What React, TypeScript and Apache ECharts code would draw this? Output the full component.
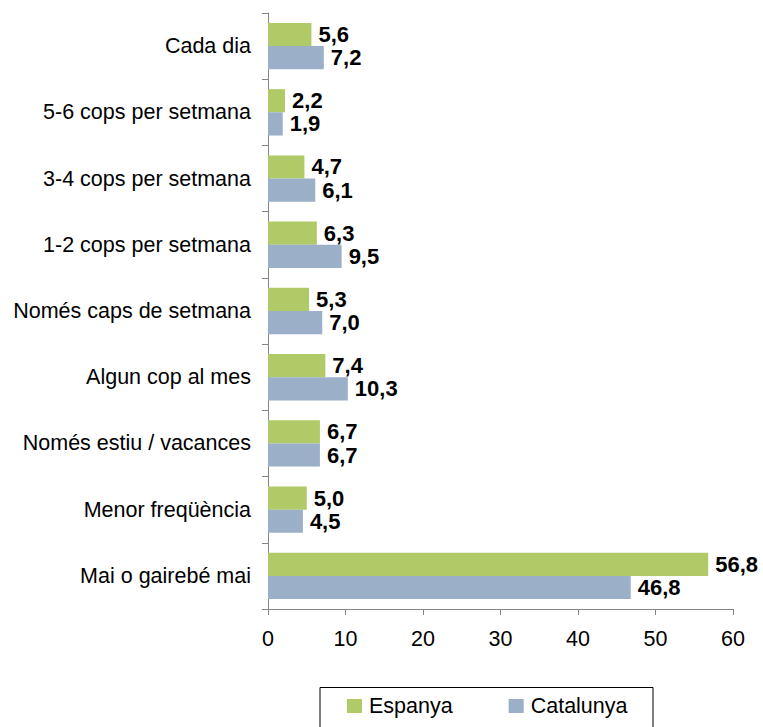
import React, { useEffect, useRef } from "react";
import * as echarts from "echarts";

const categories = [
  "Cada dia",
  "5-6 cops per setmana",
  "3-4 cops per setmana",
  "1-2 cops per setmana",
  "Només caps de setmana",
  "Algun cop al mes",
  "Només estiu / vacances",
  "Menor freqüència",
  "Mai o gairebé mai",
];
const espanya = [5.6, 2.2, 4.7, 6.3, 5.3, 7.4, 6.7, 5.0, 56.8];
const catalunya = [7.2, 1.9, 6.1, 9.5, 7.0, 10.3, 6.7, 4.5, 46.8];
const seriesNames = ["Espanya", "Catalunya"];
const xMin = 0;
const xMax = 60;
const xStep = 10;

const FONT = "'Liberation Sans', Arial, sans-serif";
const GREEN = "#AFCA67";
const BLUE = "#9BAFC9";
const AXIS = "#868686";

const fmt = (v: number) => v.toFixed(1).replace(".", ",");

export default function App() {
  const ref = useRef<HTMLDivElement>(null);
  useEffect(() => {
    if (!ref.current) return;
    const chart = echarts.init(ref.current, null, { renderer: "svg" });
    const label = {
      show: true,
      position: "right",
      distance: 7,
      color: "#000",
      fontFamily: FONT,
      fontWeight: "bold",
      fontSize: 22,
      formatter: (p: any) => fmt(p.value),
    };
    chart.setOption({
      animation: false,
      backgroundColor: "#fff",
      textStyle: { fontFamily: FONT },
      grid: { left: 268, right: 30, top: 13, bottom: 118, containLabel: false },
      xAxis: {
        type: "value",
        min: xMin,
        max: xMax,
        interval: xStep,
        axisLine: { show: true, lineStyle: { color: AXIS, width: 1 } },
        axisTick: { show: true, length: 6, lineStyle: { color: AXIS } },
        splitLine: { show: false },
        axisLabel: { color: "#000", fontSize: 21.5, fontFamily: FONT, margin: 19 },
      },
      yAxis: {
        type: "category",
        inverse: true,
        data: categories,
        axisLine: { show: true, lineStyle: { color: AXIS, width: 1 } },
        axisTick: { show: true, length: 6, lineStyle: { color: AXIS }, alignWithLabel: false },
        axisLabel: { color: "#000", fontSize: 21.5, fontFamily: FONT, margin: 17 },
      },
      legend: {
        show: true,
        left: 347,
        top: 695,
        padding: 0,
        itemWidth: 15,
        itemHeight: 14,
        itemGap: 56,
        icon: "rect",
        textStyle: { color: "#000", fontSize: 21.5, fontFamily: FONT, padding: [0, 0, 0, 2] },
        data: seriesNames,
      },
      graphic: [
        {
          type: "rect",
          left: 317.5,
          top: 685,
          shape: { width: 333, height: 60 },
          style: { fill: "none", stroke: "#000", lineWidth: 1 },
          silent: true,
          z: -1,
        },
      ],
      series: [
        {
          name: seriesNames[0],
          type: "bar",
          data: espanya,
          barGap: "0%",
          barCategoryGap: "30%",
          itemStyle: { color: GREEN },
          label,
        },
        {
          name: seriesNames[1],
          type: "bar",
          data: catalunya,
          barGap: "0%",
          barCategoryGap: "30%",
          itemStyle: { color: BLUE },
          label,
        },
      ],
    });
    return () => chart.dispose();
  }, []);
  return <div ref={ref} style={{ width: 763, height: 727, position: "absolute", left: 0, top: 0 }} />;
}
